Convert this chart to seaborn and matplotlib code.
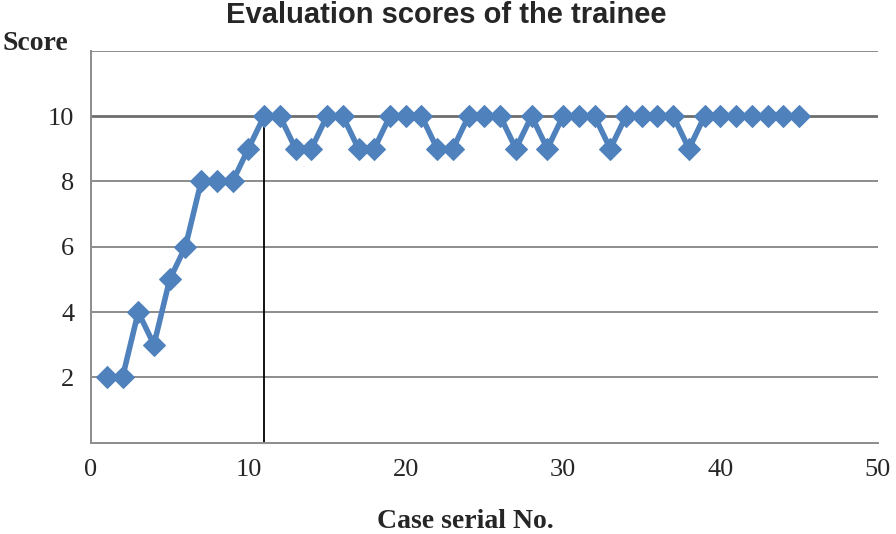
import matplotlib
matplotlib.use("Agg")
import matplotlib.pyplot as plt
import pandas as pd
import seaborn as sns

# Valores: nota del alumno por caso
case_no = list(range(1, 46))
scores = [2, 2, 4, 3, 5, 6, 8, 8, 8, 9,
          10, 10, 9, 9, 10, 10, 9, 9, 10, 10,
          10, 9, 9, 10, 10, 10, 9, 10, 9, 10,
          10, 10, 9, 10, 10, 10, 10, 9, 10, 10,
          10, 10, 10, 10, 10]
x_ticks = [0, 10, 20, 30, 40, 50]
y_ticks = [2, 4, 6, 8, 10]
cutoff_case = 11

df = pd.DataFrame({"Case": case_no, "Score": scores})

sns.set_style("white")
plt.rcParams["font.family"] = ["Liberation Serif", "DejaVu Serif"]

fig = plt.figure(figsize=(8.96, 5.34), dpi=100)
ax = fig.add_axes([0.1016, 0.171, 0.878, 0.734])

# Rejilla horizontal gris
for y in [2, 4, 6, 8, 12]:
    ax.axhline(y, color="#8c8c8c", lw=1.4, zorder=1)
ax.axhline(10, color="#6e6e6e", lw=2.0, zorder=1)

# Linea vertical en el caso 11
ax.plot([cutoff_case, cutoff_case], [0, 10], color="black", lw=1.3, zorder=2)

sns.lineplot(data=df, x="Case", y="Score", ax=ax, color="#4F81BD",
             lw=4, marker="D", markersize=11, markeredgecolor="#4F81BD",
             zorder=3)

ax.set_xlim(0, 50)
ax.set_ylim(0, 12)
ax.set_xticks(x_ticks)
ax.set_yticks(y_ticks)
ax.tick_params(axis="both", length=0, labelsize=19, pad=12)
ax.set_xlabel("")
ax.set_ylabel("")

for s in ["top", "right"]:
    ax.spines[s].set_visible(False)
for s in ["left", "bottom"]:
    ax.spines[s].set_color("#8c8c8c")
    ax.spines[s].set_linewidth(1.4)

fig.text(0.498, 0.972, "Evaluation scores of the trainee", ha="center", va="center",
         fontsize=21, fontweight="heavy",
         family=["Liberation Sans Narrow", "Liberation Sans", "DejaVu Sans"])
fig.text(0.003, 0.918, "Score", ha="left", va="center", fontsize=20, fontweight="bold")
fig.text(0.519, 0.023, "Case serial No.", ha="center", va="center", fontsize=20,
         fontweight="bold")

fig.savefig("out.png", dpi=100)
